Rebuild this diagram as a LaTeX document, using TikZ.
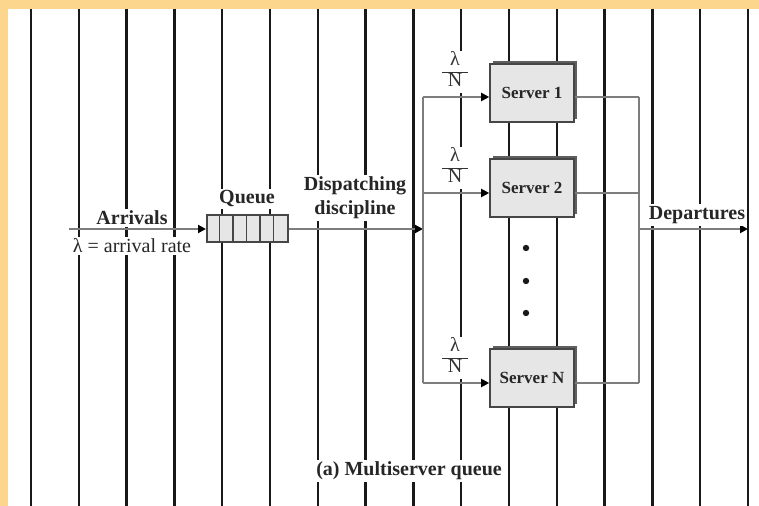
\documentclass[tikz,border=0pt]{standalone}
\usepackage{fontspec}
\setmainfont{Liberation Serif}
\usetikzlibrary{arrows.meta,positioning,shadows}
\definecolor{frameorange}{RGB}{252,214,140}
\definecolor{flowgray}{RGB}{125,125,125}
\definecolor{boxgray}{RGB}{230,230,230}
\definecolor{edgegray}{RGB}{70,70,70}
\definecolor{shadegray}{RGB}{95,95,95}
\setlength{\arrayrulewidth}{0.6pt}
\tikzset{
  stripe/.style={black!90,line width=1.2pt},
  flow/.style={flowgray,line width=1pt},
  flowarrow/.style={flow,-{Triangle[length=4pt,width=4pt,color=black]}},
  lbl/.style={fill=white,inner sep=1pt,font=\bfseries,text=black!85},
  queuebox/.style={draw=edgegray,line width=1pt,fill=boxgray,minimum width=40.5pt,minimum height=13.5pt,inner sep=0pt},
  server/.style={draw=edgegray,line width=0.8pt,fill=boxgray,minimum width=42pt,minimum height=29pt,
    font=\bfseries\fontsize{8.5}{10}\selectfont,text=black!85,
    general shadow={shadow xshift=1.6pt,shadow yshift=1.6pt,fill=shadegray}},
  frac/.style={fill=white,inner sep=0.5pt,text=black!80}
}
\begin{document}
\begin{tikzpicture}[x=0.5pt,y=-0.5pt]
\useasboundingbox (0,0) rectangle (759,506);
\fill[frameorange] (0,0) rectangle (759,506);
\fill[white] (8,9) rectangle (759,506);
% background stripes
\foreach \k in {0,...,15}
  \draw[stripe] ({31+47.8*\k},9) -- ({31+47.8*\k},506);

% queue
\node[queuebox] (q) at (247.5,229) {};
\foreach \i in {1,...,5}
  \draw[edgegray,line width=0.8pt] ([xshift=\i*6.75pt]q.north west) -- ([xshift=\i*6.75pt]q.south west);
\coordinate (arr) at (69,229);
\draw[flowarrow] (arr) -- (q.west);
\node[lbl] (arrl) at (132,218) {Arrivals};
\node[lbl,font=\normalfont] (rate) at (132,246) {λ = arrival rate};
\node[lbl] (ql) at (247,199) {Queue};

% dispatching
\coordinate (disp) at (423,229);
\draw[flowarrow] (q.east) -- (disp);
\node[lbl,align=center] (dl) at (355,198) {Dispatching\\discipline};

% servers
\node[server] (s1) at (532,93) {Server 1};
\node[server] (s2) at (532,188) {Server 2};
\node[server] (sN) at (532,378) {Server N};
\coordinate (b1) at (423,97);
\coordinate (b2) at (423,193);
\coordinate (bN) at (423,383);
\coordinate (j1) at (639,97);
\coordinate (j2) at (639,193);
\coordinate (jN) at (639,383);
\draw[flow] (b1) -- (bN);
\draw[flow] (j1) -- (jN);
\foreach \s/\b/\j in {s1/b1/j1,s2/b2/j2,sN/bN/jN}{
  \draw[flowarrow] (\b) -- (\b -| \s.west);
  \draw[flow] (\j -| \s.east) -- (\j);
}
\foreach \n/\y in {f1/72,f2/168,fN/358}
  \node[frac] (\n) at (455,\y) {\renewcommand\arraystretch{0.8}\begin{tabular}{@{\hspace{3pt}}c@{\hspace{3pt}}}λ\\\hline N\end{tabular}};
\foreach \y in {248,281,313}
  \fill[black!90] (526,\y) circle (1.6pt);

% departures
\coordinate (dep) at (639,229);
\coordinate (out) at (748,229);
\draw[flowarrow] (dep) -- (out);
\node[lbl] (depl) at (697,215) {Departures};

\node[lbl] (cap) at (409,471) {(a) Multiserver queue};
\end{tikzpicture}
\end{document}
